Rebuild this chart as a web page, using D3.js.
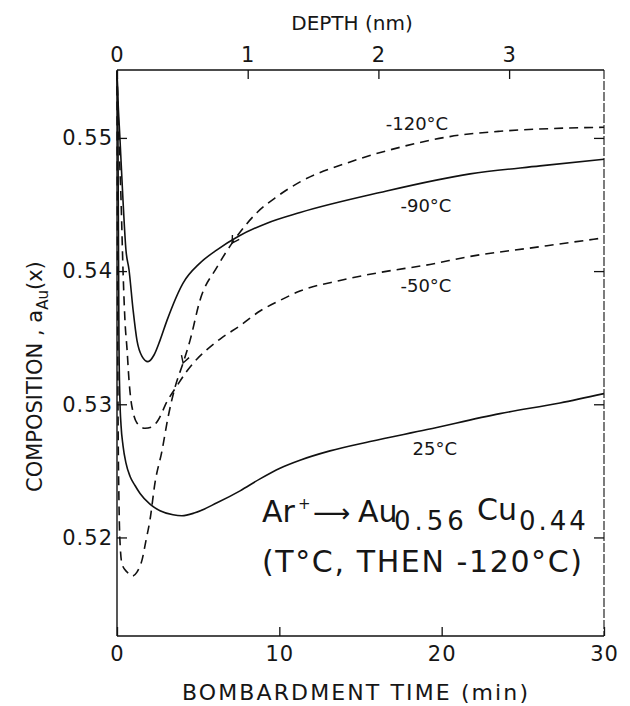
<!DOCTYPE html>
<html>
<head>
<meta charset="utf-8">
<title>Composition vs bombardment time</title>
<style>
  body { margin:0; background:white; }
  svg text { font-family: "DejaVu Sans", sans-serif; fill:#161616; }
  .curve { fill:none; stroke:#111; stroke-width:1.6; }
  .dash { stroke-dasharray: 9,6; }
  .frame { stroke:#111; stroke-width:1.4; }
  .axis line { stroke:#111; stroke-width:1.3; }
  .axis path { display:none; }
  .axis text { font-size:21px; letter-spacing:1px; }
  .lbl { font-size:18px; }
</style>
</head>
<body>
<svg id="chart" width="630" height="706"></svg>
<script src="https://cdn.jsdelivr.net/npm/d3@7/dist/d3.min.js"></script>
<script>

// bombardment time (min) and composition
var t120 = [0, 0.03, 0.06, 0.12, 0.18, 0.31, 0.62, 0.92, 1.23, 1.54, 1.79, 2.03, 2.34, 2.77, 3.14, 3.58, 4.07, 4.5, 5.11, 6.16, 7.09, 8.63, 9.86, 11.28, 14.36, 17.44, 20.5, 23.6, 26.7, 30];
var v120 = [0.5550, 0.5416, 0.5303, 0.5228, 0.5198, 0.5180, 0.5174, 0.5171, 0.5174, 0.5183, 0.5198, 0.5213, 0.5241, 0.5265, 0.5290, 0.5313, 0.5331, 0.5348, 0.5378, 0.5403, 0.5421, 0.5444, 0.5456, 0.5467, 0.5482, 0.5493, 0.5501, 0.5505, 0.5507, 0.5508];

var t90 = [0, 0.06, 0.18, 0.37, 0.55, 0.74, 0.99, 1.23, 1.54, 1.91, 2.28, 2.65, 3.08, 4.07, 5.11, 6.16, 7.46, 9.24, 11.28, 16.2, 21.75, 26.06, 30];
var v90 = [0.5550, 0.5529, 0.5500, 0.5453, 0.5416, 0.5401, 0.5371, 0.5348, 0.5336, 0.5332, 0.5337, 0.5348, 0.5363, 0.5391, 0.5406, 0.5416, 0.5426, 0.5436, 0.5444, 0.5459, 0.5473, 0.5479, 0.5484];

var t50 = [0, 0.12, 0.25, 0.37, 0.49, 0.62, 0.74, 0.86, 0.99, 1.23, 1.73, 2.16, 2.53, 3.08, 3.7, 4.31, 4.93, 5.54, 6.35, 7.58, 8.81, 10.04, 11.27, 13.74, 16.2, 19.28, 21.75, 25.87, 30];
var v50 = [0.5550, 0.5498, 0.5453, 0.5401, 0.5363, 0.5341, 0.5318, 0.5303, 0.5294, 0.5286, 0.5282, 0.5283, 0.5288, 0.5302, 0.5314, 0.5325, 0.5334, 0.5341, 0.5349, 0.5359, 0.5370, 0.5378, 0.5385, 0.5393, 0.5399, 0.5405, 0.5411, 0.5418, 0.5425];

var t25 = [0, 0.06, 0.12, 0.18, 0.25, 0.37, 0.55, 0.8, 1.11, 1.42, 2.03, 2.65, 3.45, 4.0, 4.8, 6.16, 7.58, 8.81, 10.04, 11.27, 13.12, 15.59, 19.1, 23.59, 27.29, 30];
var v25 = [0.5550, 0.5498, 0.5348, 0.5303, 0.5284, 0.5269, 0.5256, 0.5246, 0.5239, 0.5233, 0.5225, 0.5220, 0.52170, 0.52163, 0.52185, 0.5226, 0.5235, 0.5244, 0.5252, 0.5258, 0.5265, 0.5272, 0.5281, 0.5293, 0.5301, 0.5308];

var timeTicks = [0, 10, 20, 30];
var depthTicks = [0, 1, 2, 3];
var compTicks = [0.52, 0.53, 0.54, 0.55];

// curve labels: text, time at the right end of the label, composition at its baseline
var labelText = ["-120°C", "-90°C", "-50°C", "25°C"];
var labelTime = [20.4, 20.6, 20.6, 20.95];
var labelComp = [0.5506, 0.5444, 0.5384, 0.5262];

// small arrow heads drawn on the -120°C curve (index into t120)
var arrowIdx = [20, 16];

var svg = d3.select("#chart");

var x = d3.scaleLinear().domain([0, 30]).range([117, 604]);
var depth = d3.scaleLinear().domain([0, 3.726]).range([117, 604]);
var y = d3.scaleLinear().domain([0.5126, 0.5551]).range([636, 70]);

var yTop = y(0.5551), yBot = y(0.5126), xL = x(0), xR = x(30);

// frame, right side is broken like on the print
svg.append("line").attr("class", "frame").attr("x1", xL).attr("x2", xL).attr("y1", yTop).attr("y2", yBot);
svg.append("line").attr("class", "frame").attr("x1", xL).attr("x2", xR).attr("y1", yBot).attr("y2", yBot);
svg.append("line").attr("class", "frame").attr("x1", xL).attr("x2", xR).attr("y1", yTop).attr("y2", yTop);
svg.append("line").attr("class", "frame").attr("x1", xR).attr("x2", xR).attr("y1", yTop).attr("y2", yBot)
  .style("stroke-width", 1.1).style("stroke-dasharray", "9,2");

svg.append("g").attr("class", "axis")
  .attr("transform", "translate(" + xL + ",0)")
  .call(d3.axisLeft(y).tickValues(compTicks).tickSize(-10).tickPadding(4).tickFormat(d3.format(".2f")));

svg.append("g").attr("class", "axis")
  .attr("transform", "translate(" + xR + ",0)")
  .call(d3.axisRight(y).tickValues(compTicks).tickSize(-10).tickFormat(""));

svg.append("g").attr("class", "axis")
  .attr("transform", "translate(0," + yBot + ")")
  .call(d3.axisBottom(x).tickValues(timeTicks).tickSize(-9).tickPadding(10).tickFormat(d3.format("d")));

svg.append("g").attr("class", "axis")
  .attr("transform", "translate(0," + yTop + ")")
  .call(d3.axisTop(depth).tickValues(depthTicks).tickSize(-9).tickPadding(8).tickFormat(d3.format("d")));

// curves
var line = d3.line()
  .x(function(d) { return x(d[0]); })
  .y(function(d) { return y(d[1]); })
  .curve(d3.curveMonotoneX);

var series = [
  {t: t120, v: v120, dashed: true},
  {t: t90, v: v90, dashed: false},
  {t: t50, v: v50, dashed: true},
  {t: t25, v: v25, dashed: false}
];

series.forEach(function(s) {
  svg.append("path")
    .datum(d3.zip(s.t, s.v))
    .attr("class", s.dashed ? "curve dash" : "curve")
    .attr("d", line);
});

// arrow heads pointing back down the -120°C curve
arrowIdx.forEach(function(i) {
  var px = x(t120[i]), py = y(v120[i]);
  var ang = Math.atan2(y(v120[i - 1]) - py, x(t120[i - 1]) - px) * 180 / Math.PI;
  svg.append("path")
    .attr("d", "M-7,-4L0,0L-7,4")
    .attr("transform", "translate(" + px + "," + py + ") rotate(" + ang + ")")
    .style("fill", "none").style("stroke", "#111").style("stroke-width", 1.4);
});

// curve labels
labelText.forEach(function(txt, i) {
  svg.append("text")
    .attr("class", "lbl")
    .attr("x", x(labelTime[i])).attr("y", y(labelComp[i]))
    .attr("text-anchor", "end")
    .text(txt);
});

// axis titles
svg.append("text")
  .attr("x", 352).attr("y", 30)
  .attr("text-anchor", "middle")
  .style("font-size", "20px")
  .text("DEPTH (nm)");

svg.append("text")
  .attr("x", 355).attr("y", 700)
  .attr("text-anchor", "middle")
  .attr("textLength", 346)
  .style("font-size", "22px")
  .text("BOMBARDMENT TIME (min)");

var ytitle = svg.append("text")
  .attr("transform", "translate(42,492) rotate(-90)")
  .style("font-size", "21px");
ytitle.append("tspan").text("COMPOSITION , a");
ytitle.append("tspan").attr("dy", 6).style("font-size", "15px").text("Au");
ytitle.append("tspan").attr("dy", -6).text("(x)");

// annotation
var ann = svg.append("text")
  .attr("y", 522)
  .style("font-size", "30px");
ann.append("tspan").attr("x", 262).text("Ar");
ann.append("tspan").attr("x", 298).attr("dy", -13).style("font-size", "15px").text("+");
ann.append("tspan").attr("x", 313).attr("dy", 13).style("font-size", "26px").text("\u27F6");
ann.append("tspan").attr("x", 358).text("Au");
ann.append("tspan").attr("x", 394).attr("dy", 8).style("font-size", "26px").style("letter-spacing", "4px").text("0.56");
ann.append("tspan").attr("x", 477).attr("dy", -10).text("Cu");
ann.append("tspan").attr("x", 519).attr("dy", 10).style("font-size", "26px").style("letter-spacing", "3px").text("0.44");

svg.append("text")
  .attr("x", 262).attr("y", 572)
  .attr("textLength", 320)
  .style("font-size", "30px")
  .text("(T°C, THEN -120°C)");

</script>
</body>
</html>
